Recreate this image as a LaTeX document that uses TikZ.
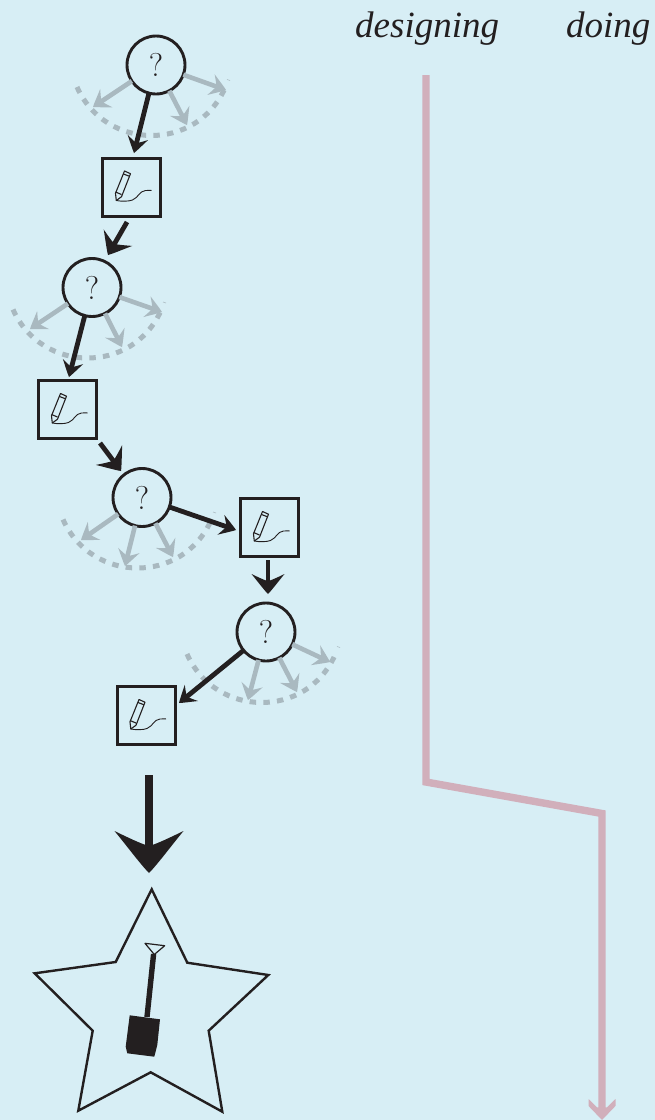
\documentclass[tikz,border=0pt]{standalone}
\usepackage{fontspec}
\setmainfont{Latin Modern Roman}
\newfontfamily\handfont{Liberation Serif}[ItalicFont={Liberation Serif Italic}]
\usetikzlibrary{arrows.meta}
\definecolor{bgc}{HTML}{D7EEF5}
\definecolor{ink}{HTML}{231F20}
\definecolor{grayc}{HTML}{A9B9C0}
\definecolor{pinkc}{HTML}{D1AFBB}
\pgfdeclarearrow{
  name=Swept,
  parameters={\the\pgfarrowlength,\the\pgfarrowwidth},
  setup code={
    \pgfarrowssetbackend{0pt}
    \pgfarrowssetlineend{.5\pgfarrowlength}
    \pgfarrowssettipend{\pgfarrowlength}
    \pgfarrowssavethe\pgfarrowlength
    \pgfarrowssavethe\pgfarrowwidth
  },
  drawing code={
    \pgfpathmoveto{\pgfqpoint{\pgfarrowlength}{0pt}}
    \pgfpathcurveto{\pgfpoint{.8\pgfarrowlength}{.12\pgfarrowwidth}}{\pgfpoint{.4\pgfarrowlength}{.3\pgfarrowwidth}}{\pgfpoint{0pt}{.5\pgfarrowwidth}}
    \pgfpathcurveto{\pgfpoint{.16\pgfarrowlength}{.3\pgfarrowwidth}}{\pgfpoint{.3\pgfarrowlength}{.12\pgfarrowwidth}}{\pgfpoint{.36\pgfarrowlength}{0pt}}
    \pgfpathcurveto{\pgfpoint{.3\pgfarrowlength}{-.12\pgfarrowwidth}}{\pgfpoint{.16\pgfarrowlength}{-.3\pgfarrowwidth}}{\pgfpoint{0pt}{-.5\pgfarrowwidth}}
    \pgfpathcurveto{\pgfpoint{.4\pgfarrowlength}{-.3\pgfarrowwidth}}{\pgfpoint{.8\pgfarrowlength}{-.12\pgfarrowwidth}}{\pgfqpoint{\pgfarrowlength}{0pt}}
    \pgfpathclose
    \pgfusepathqfill
  },
  defaults={length=13pt,width=16pt}
}
\pgfdeclarearrow{
  name=Blunt,
  parameters={\the\pgfarrowlength,\the\pgfarrowwidth},
  setup code={
    \pgfarrowssetbackend{0pt}
    \pgfarrowssetlineend{.6\pgfarrowlength}
    \pgfarrowssettipend{\pgfarrowlength}
    \pgfarrowssavethe\pgfarrowlength
    \pgfarrowssavethe\pgfarrowwidth
  },
  drawing code={
    \pgfpathmoveto{\pgfqpoint{\pgfarrowlength}{0pt}}
    \pgfpathlineto{\pgfpoint{.33\pgfarrowlength}{.5\pgfarrowwidth}}
    \pgfpathlineto{\pgfpoint{0pt}{.5\pgfarrowwidth}}
    \pgfpathlineto{\pgfpoint{.4\pgfarrowlength}{.18\pgfarrowwidth}}
    \pgfpathlineto{\pgfpoint{.4\pgfarrowlength}{-.18\pgfarrowwidth}}
    \pgfpathlineto{\pgfpoint{0pt}{-.5\pgfarrowwidth}}
    \pgfpathlineto{\pgfpoint{.33\pgfarrowlength}{-.5\pgfarrowwidth}}
    \pgfpathclose
    \pgfusepathqfill
  },
  defaults={length=21pt,width=26pt}
}
\tikzset{
  qnode/.style={circle,draw=ink,line width=2.9pt,minimum size=58pt,inner sep=0pt,outer sep=0pt,text=ink,font=\fontsize{33}{33}\selectfont},
  snode/.style={rectangle,draw=ink,line width=3pt,minimum size=58pt,inner sep=0pt,outer sep=0pt},
  grayarr/.style={color=grayc,line width=4.6pt,-{Swept[length=16pt,width=22pt]}},
  graydash/.style={color=grayc,line width=5pt,dash pattern=on 6.5pt off 7.2pt},
  smallarr/.style={color=ink,line width=4.8pt,-{Swept[length=16pt,width=21pt]}},
  medarr/.style={color=ink,line width=4.8pt,-{Swept[length=20pt,width=33pt]}},
  bigarr/.style={color=ink,line width=7.5pt,-{Swept[length=42pt,width=69pt]}},
  pinkline/.style={color=pinkc,line width=7.4pt,miter limit=10,-{Blunt[length=21pt,width=27pt]}},
  hand/.style={inner sep=0pt,text=ink,font=\handfont\itshape\fontsize{37}{37}\selectfont},
  iconline/.style={draw=ink,line width=1.1pt,line join=round},
  starline/.style={draw=ink,line width=2.4pt,miter limit=10}
}
% dashed fan behind a question node: #1 node name
\newcommand{\fandash}[1]{%
  \begin{scope}[shift={(#1)}]
    \draw[graydash] (-79,22) .. controls (-50.5,86) and (40.5,87) .. (69,23);
    \draw[grayc,line width=.6pt] (71,14.5) -- (74,15.5);
  \end{scope}}
\newcommand{\pencilicon}[1]{%
  \begin{scope}[shift={(#1)}]
    \draw[iconline] (-7,-16) -- (-1,-13.3) -- (-10,9.7) -- (-15.2,13.5) -- (-16,6.3) -- cycle;
    \draw[iconline] (-8,-13) -- (-2.2,-10.8);
    \draw[iconline] (-16,5) -- (-10,7.5);
    \draw[iconline,line width=.9pt] (-15.2,13.5) .. controls (-10,14.5) and (-3,14.5) .. (1,13) .. controls (7,10.5) and (8,4) .. (14,3.5) -- (20,3.3);
  \end{scope}}
\begin{document}
\begin{tikzpicture}[x=1pt,y=-1pt]
\fill[bgc] (0,0) rectangle (655,1120);
\useasboundingbox (0,0) rectangle (655,1120);

% question and sketch nodes
\node[qnode] (q1) at (156,65) {?};
\node[qnode] (q2) at (92,287.5) {?};
\node[qnode] (q3) at (142,497.5) {?};
\node[qnode] (q4) at (266,632) {?};
\node[snode] (s1) at (131.5,187) {};
\node[snode] (s2) at (67.5,409.5) {};
\node[snode] (s3) at (269.5,527.5) {};
\node[snode] (s4) at (146,715.5) {};
\pencilicon{s1}\pencilicon{s2}\pencilicon{s3}\pencilicon{s4}

% free ends of connectors
\coordinate (q1a) at (93,107);
\coordinate (q1b) at (187,125);
\coordinate (q1c) at (226,90);
\coordinate (q2a) at (30,329);
\coordinate (q2b) at (122,347);
\coordinate (q2c) at (162,312);
\coordinate (q3a) at (81,540);
\coordinate (q3b) at (125,566);
\coordinate (q3c) at (173,557);
\coordinate (q4a) at (248,700);
\coordinate (q4b) at (297,692);
\coordinate (q4c) at (330,662);
\coordinate (t1) at (134,153);
\coordinate (t2) at (108,255);
\coordinate (t3) at (69,377);
\coordinate (t4) at (121,471);
\coordinate (t5) at (236,530);
\coordinate (t6) at (268,594);
\coordinate (t7) at (179,703);
\coordinate (b2) at (127,222);
\coordinate (b4) at (100,443);
\coordinate (b6) at (268,560);
\coordinate (bigs) at (149,775);
\coordinate (bige) at (149,873);
\coordinate (p1) at (426,75);
\coordinate (p2) at (426,782);
\coordinate (p3) at (602,813.5);
\coordinate (p4) at (602,1120);

% fans
\fandash{q1}\fandash{q2}\fandash{q3}\fandash{q4}
\draw[grayarr] (q1) -- (q1a);
\draw[grayarr] (q1) -- (q1b);
\draw[grayarr] (q1) -- (q1c);
\draw[grayarr] (q2) -- (q2a);
\draw[grayarr] (q2) -- (q2b);
\draw[grayarr] (q2) -- (q2c);
\draw[grayarr] (q3) -- (q3a);
\draw[grayarr] (q3) -- (q3b);
\draw[grayarr] (q3) -- (q3c);
\draw[grayarr] (q4) -- (q4a);
\draw[grayarr] (q4) -- (q4b);
\draw[grayarr] (q4) -- (q4c);

% black path
\draw[smallarr] (q1) -- (t1);
\draw[medarr] (b2) -- (t2);
\draw[smallarr] (q2) -- (t3);
\draw[medarr] (b4) -- (t4);
\draw[smallarr] (q3) -- (t5);
\draw[medarr] (b6) -- (t6);
\draw[smallarr] (q4) -- (t7);
\draw[bigarr] (bigs) -- (bige);

% star with spade
\draw[starline] (151.7,889.3) -- (187.3,962.7) -- (268.3,975) -- (208.7,1030.7) -- (222.3,1111.7) -- (150.7,1072.3) -- (78.3,1110.7) -- (92.7,1030.7) -- (34.7,973.3) -- (115.7,962) -- cycle;
\draw[draw=ink,line width=1.2pt,line join=round] (145,943.3) -- (164.7,945.7) -- (154.3,954.5) -- cycle;
\draw[ink,line width=5.4pt] (153.6,954) -- (147,1017);
\fill[ink] (129.7,1015.3) -- (160,1019.3) -- (157.3,1045) -- (154.3,1056.7) -- (127.3,1053.3) -- (125.7,1046.7) -- cycle;

% timeline
\draw[pinkline] (p1) -- (p2) -- (p3) -- (p4);
\node[hand,anchor=base west] (des) at (355,37) {designing};
\node[hand,anchor=base west] (doi) at (566,37) {doing};
\end{tikzpicture}
\end{document}
